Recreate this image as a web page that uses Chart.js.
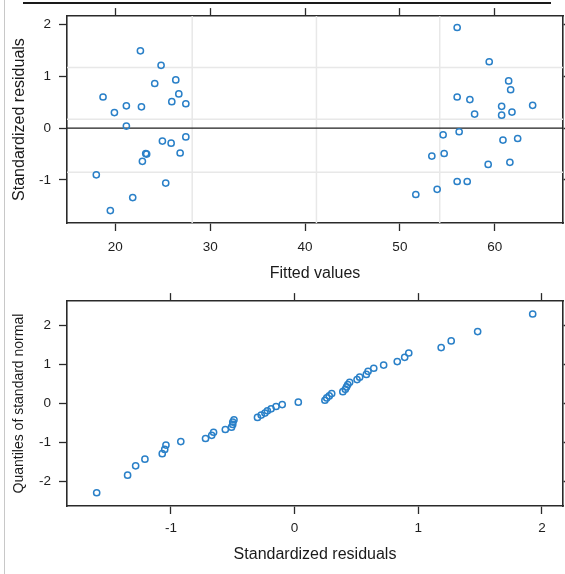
<!DOCTYPE html>
<html>
<head>
<meta charset="utf-8">
<script src="https://cdn.jsdelivr.net/npm/chart.js@4/dist/chart.umd.min.js"></script>
<style>
  html, body { margin: 0; padding: 0; background: #ffffff; }
  body { width: 565px; height: 574px; position: relative; overflow: hidden; }
  #leftRule { position: absolute; left: 4px; top: 0; width: 0; height: 574px; border-left: 1.5px solid #c8c8c8; }
  #topWrap { position: absolute; left: 0; top: 0; width: 565px; height: 290px; }
  #botWrap { position: absolute; left: 0; top: 285px; width: 565px; height: 289px; }
</style>
</head>
<body>
<div id="leftRule"></div>
<div id="topWrap"><canvas id="top" width="565" height="290"></canvas></div>
<div id="botWrap"><canvas id="bot" width="565" height="289"></canvas></div>
<script>
// ---- Data: residuals vs fitted (top panel) ----
const fittedValues = [22.64, 24.82, 24.15, 26.37, 26.69, 18.70, 25.95, 27.43, 21.16, 22.75, 19.90, 21.16,
  27.43, 24.96, 25.88, 26.83, 23.20, 23.30, 22.85, 17.99, 25.31, 21.83, 19.47,
  56.04, 59.42, 61.47, 61.68, 56.04, 57.38, 64.00, 60.73, 61.82, 57.88, 60.73, 56.25, 54.56,
  60.87, 62.42, 54.67, 53.37, 59.31, 61.60, 56.04, 57.10, 53.93, 51.68];
const stdResiduals = [1.49, 1.21, 0.86, 0.93, 0.66, 0.60, 0.51, 0.47, 0.43, 0.41, 0.30, 0.04,
  -0.17, -0.25, -0.29, -0.48, -0.49, -0.50, -0.64, -0.90, -1.06, -1.34, -1.59,
  1.94, 1.28, 0.91, 0.74, 0.60, 0.55, 0.44, 0.42, 0.31, 0.27, 0.25, -0.07, -0.13,
  -0.23, -0.20, -0.49, -0.54, -0.70, -0.66, -1.03, -1.03, -1.18, -1.28];
const gridFitted = [28.1, 41.2, 54.2];
const gridResid = [1.17, 0.17, -0.85];
const refResid = 0;

// ---- Data: normal QQ plot (bottom panel) ----
const qqResiduals = [-1.60, -1.35, -1.285, -1.21, -1.07, -1.05, -1.04, -0.92, -0.72, -0.67, -0.655, -0.56,
  -0.51, -0.50, -0.50, -0.49, -0.30, -0.27, -0.24, -0.22, -0.19, -0.15, -0.10, 0.03,
  0.245, 0.26, 0.28, 0.30, 0.39, 0.41, 0.42, 0.43, 0.445, 0.505, 0.526, 0.58, 0.594, 0.64,
  0.72, 0.83, 0.89, 0.923, 1.185, 1.266, 1.48, 1.925];
const qqNormal = [-2.29, -1.84, -1.60, -1.43, -1.29, -1.18, -1.07, -0.98, -0.90, -0.82, -0.74, -0.67,
  -0.61, -0.54, -0.48, -0.42, -0.36, -0.30, -0.25, -0.19, -0.14, -0.08, -0.03, 0.03,
  0.08, 0.14, 0.19, 0.25, 0.30, 0.36, 0.42, 0.48, 0.54, 0.61, 0.67, 0.74, 0.82, 0.90,
  0.98, 1.07, 1.18, 1.29, 1.43, 1.60, 1.84, 2.29];

// ---- Tick labels ----
const fittedTicks = [20, 30, 40, 50, 60];
const residTicks = [-1, 0, 1, 2];
const qqXTicks = [-1, 0, 1, 2];
const qqYTicks = [-2, -1, 0, 1, 2];

const FONT = "'Liberation Sans', Arial, sans-serif";
const AXIS = '#2a2a2a';
const BLUE = '#2a80c8';

function pts(xs, ys) { return xs.map((x, i) => ({ x: x, y: ys[i] })); }
function fixTicks(arr) { return function (s) { s.ticks = arr.map(v => ({ value: v })); }; }

function axis(opts) {
  return {
    type: 'linear',
    position: opts.position,
    min: opts.min, max: opts.max,
    afterBuildTicks: fixTicks(opts.ticks),
    grid: { drawOnChartArea: false, drawTicks: true, tickLength: 8, tickWidth: 1.3, color: AXIS, tickColor: AXIS },
    border: { display: true, color: AXIS, width: 1.6 },
    ticks: { display: !!opts.labels, autoSkip: false, maxRotation: 0, padding: opts.pad || 8,
      color: '#1e1e1e', font: { family: FONT, size: 13.5 } },
    title: opts.title ? { display: true, text: opts.title, color: '#1a1a1a',
      font: { family: FONT, size: opts.titleSize || 16 }, padding: opts.titlePad } : { display: false },
    afterFit: function (s) { if (opts.width !== undefined) s.width = opts.width; if (opts.height !== undefined) s.height = opts.height; }
  };
}

const refLines = {
  id: 'refLines',
  beforeDatasetsDraw(chart, args, o) {
    if (!o || !o.enabled) return;
    const { ctx, chartArea: a, scales } = chart;
    ctx.save();
    ctx.beginPath(); ctx.rect(a.left, a.top, a.right - a.left, a.bottom - a.top); ctx.clip();
    ctx.strokeStyle = '#e8e8e8'; ctx.lineWidth = 1.5;
    gridFitted.forEach(v => { const p = scales.x.getPixelForValue(v); ctx.beginPath(); ctx.moveTo(p, a.top); ctx.lineTo(p, a.bottom); ctx.stroke(); });
    gridResid.forEach(v => { const p = scales.y.getPixelForValue(v); ctx.beginPath(); ctx.moveTo(a.left, p); ctx.lineTo(a.right, p); ctx.stroke(); });
    ctx.strokeStyle = '#1e1e1e'; ctx.lineWidth = 1.3;
    const p0 = scales.y.getPixelForValue(refResid);
    ctx.beginPath(); ctx.moveTo(a.left, p0); ctx.lineTo(a.right, p0); ctx.stroke();
    ctx.restore();
  },
  afterDraw(chart, args, o) {
    if (!o || !o.topRule) return;
    const ctx = chart.ctx;
    ctx.save();
    ctx.strokeStyle = '#1a1a1a'; ctx.lineWidth = 2.2;
    ctx.beginPath(); ctx.moveTo(23, 3); ctx.lineTo(551, 3); ctx.stroke();
    ctx.restore();
  }
};

function scatterDataset(data) {
  return {
    data: data, showLine: false, pointStyle: 'circle', pointRadius: 3.1, pointHoverRadius: 3.1,
    pointBorderWidth: 1.5, pointBorderColor: BLUE, pointBackgroundColor: 'rgba(0,0,0,0)'
  };
}

new Chart(document.getElementById('top'), {
  type: 'scatter',
  data: { datasets: [scatterDataset(pts(fittedValues, stdResiduals))] },
  options: {
    responsive: false, animation: false, devicePixelRatio: 1,
    layout: { autoPadding: false, padding: 0 },
    plugins: { legend: { display: false }, tooltip: { enabled: false }, refLines: { enabled: true, topRule: true } },
    scales: {
      x: axis({ position: 'bottom', min: 14.9, max: 67.2, ticks: fittedTicks, labels: true, pad: 8,
        title: 'Fitted values', titlePad: { top: 0, bottom: 7 }, height: 67 }),
      x2: axis({ position: 'top', min: 14.9, max: 67.2, ticks: fittedTicks, labels: false, height: 15 }),
      y: axis({ position: 'left', min: -1.83, max: 2.16, ticks: residTicks, labels: true, pad: 8,
        title: 'Standardized residuals', titlePad: { top: 9.5, bottom: 0 }, width: 67 }),
      y2: axis({ position: 'right', min: -1.83, max: 2.16, ticks: residTicks, labels: false, width: 2 })
    }
  },
  plugins: [refLines]
});

new Chart(document.getElementById('bot'), {
  type: 'scatter',
  data: { datasets: [scatterDataset(pts(qqResiduals, qqNormal))] },
  options: {
    responsive: false, animation: false, devicePixelRatio: 1,
    layout: { autoPadding: false, padding: 0 },
    plugins: { legend: { display: false }, tooltip: { enabled: false }, refLines: { enabled: false } },
    scales: {
      x: axis({ position: 'bottom', min: -1.84, max: 2.17, ticks: qqXTicks, labels: true, pad: 6,
        title: 'Standardized residuals', titlePad: { top: 0, bottom: 9.5 }, height: 68 }),
      x2: axis({ position: 'top', min: -1.84, max: 2.17, ticks: qqXTicks, labels: false, height: 12 }),
      y: axis({ position: 'left', min: -2.63, max: 2.62, ticks: qqYTicks, labels: true, pad: 8,
        title: 'Quantiles of standard normal', titleSize: 14, titlePad: { top: 10.5, bottom: 0 }, width: 67 }),
      y2: axis({ position: 'right', min: -2.63, max: 2.62, ticks: qqYTicks, labels: false, width: 2 })
    }
  },
  plugins: [refLines]
});
</script>
</body>
</html>
